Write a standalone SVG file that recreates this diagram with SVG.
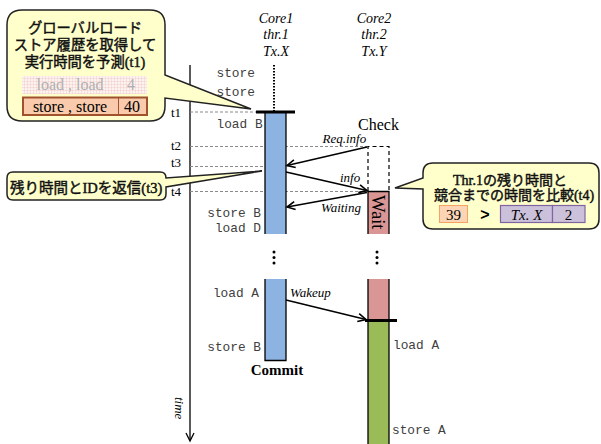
<svg xmlns="http://www.w3.org/2000/svg" width="601" height="444" viewBox="0 0 601 444">
  <style>
    .serif { font-family: "Liberation Serif", "Noto Sans CJK JP", serif; fill: #000; }
    .it { font-style: italic; }
    .mono { font-family: "Liberation Mono", monospace; font-size: 12.8px; fill: #404040; }
    .jp { font-family: "Liberation Serif", "Noto Sans CJK JP", serif; font-weight: normal; fill: #111; stroke: #111; stroke-width: 0.45px; }
    .bubble { fill: #FFFFCC; stroke: #222; stroke-width: 1.5; }
    .tline { stroke: #8a8a8a; stroke-width: 1; stroke-dasharray: 3 2; fill: none; }
    .msg { stroke: #000; stroke-width: 1.6; fill: none; marker-end: url(#open); }
    .side { stroke: #000; stroke-width: 1.3; }
  </style>
  <defs>
    <marker id="open" markerUnits="userSpaceOnUse" markerWidth="12" markerHeight="12" refX="9" refY="5" orient="auto">
      <path d="M1,1 L9,5 L1,9" fill="none" stroke="#000" stroke-width="1.6"/>
    </marker>
    <pattern id="grid" width="3" height="3" patternUnits="userSpaceOnUse">
      <rect width="3" height="3" fill="#FBF3F0"/>
      <path d="M0,0 H3 M0,0 V3" stroke="#F0C4C4" stroke-width="0.8"/>
    </pattern>
  </defs>

  <!-- time axis -->
  <g id="time-axis">
    <line x1="190" y1="65" x2="190" y2="440" stroke="#000" stroke-width="1.3"/>
    <path d="M186,433 L190,441 L194,433" fill="none" stroke="#000" stroke-width="1.3"/>
    <text class="serif it" font-size="13" transform="translate(175,397) rotate(90)">time</text>
    <text class="serif" font-size="13" x="171" y="117">t1</text>
    <text class="serif" font-size="13" x="171" y="150">t2</text>
    <text class="serif" font-size="13" x="171" y="167">t3</text>
    <text class="serif" font-size="13" x="171" y="196">t4</text>
  </g>

  <!-- time marks -->
  <g id="time-marks">
    <line class="tline" x1="190" y1="112" x2="258" y2="112"/>
    <line class="tline" x1="190" y1="146.5" x2="368" y2="146.5"/>
    <line class="tline" x1="190" y1="166.5" x2="265" y2="166.5"/>
    <line class="tline" x1="190" y1="191.5" x2="368" y2="191.5"/>
  </g>

  <!-- Core1 / thread 1 -->
  <g id="core1">
    <text class="serif it" font-size="14" text-anchor="middle" x="276" y="22.5">Core1</text>
    <text class="serif it" font-size="14" text-anchor="middle" x="276" y="39">thr.1</text>
    <text class="serif it" font-size="14" text-anchor="middle" x="276" y="56">Tx.X</text>
    <line x1="274" y1="65" x2="274" y2="111" stroke="#000" stroke-width="2" stroke-dasharray="1.5 1.5"/>
    <rect x="265" y="112" width="21" height="122" fill="#8DB3E2"/>
    <line class="side" x1="265" y1="112" x2="265" y2="234"/>
    <line class="side" x1="286" y1="112" x2="286" y2="234"/>
    <line x1="256" y1="112" x2="295" y2="112" stroke="#000" stroke-width="3"/>
    <circle cx="274" cy="252" r="1.5"/>
    <circle cx="274" cy="257.5" r="1.5"/>
    <circle cx="274" cy="263" r="1.5"/>
    <path d="M265,279 V360.5 H286 V279" fill="#8DB3E2" stroke="#000" stroke-width="1.3"/>
    <text class="mono" x="216.5" y="76.5">store</text>
    <text class="mono" x="216.5" y="96">store</text>
    <text class="mono" x="216.5" y="128">load B</text>
    <text class="mono" text-anchor="end" x="261" y="217">store B</text>
    <text class="mono" text-anchor="end" x="261" y="232">load D</text>
    <text class="mono" text-anchor="end" x="259" y="297">load A</text>
    <text class="mono" text-anchor="end" x="261" y="351">store B</text>
    <text class="serif" font-size="15" font-weight="bold" text-anchor="middle" x="277" y="375">Commit</text>
  </g>

  <!-- Core2 / thread 2 -->
  <g id="core2">
    <text class="serif it" font-size="14" text-anchor="middle" x="374" y="22.5">Core2</text>
    <text class="serif it" font-size="14" text-anchor="middle" x="374" y="39">thr.2</text>
    <text class="serif it" font-size="14" text-anchor="middle" x="374" y="56">Tx.Y</text>
    <text class="serif" font-size="16" x="358" y="130">Check</text>
    <path d="M368,191 V146.5 H389 V191" fill="none" stroke="#000" stroke-width="1.2" stroke-dasharray="4 3"/>
    <rect x="368" y="191.5" width="21" height="42.5" fill="#D99694"/>
    <path d="M368,234 V191.5 H389 V234" fill="none" stroke="#000" stroke-width="1.3"/>
    <text class="serif" font-size="18.5" transform="translate(371.5,195) rotate(90)">Wait</text>
    <circle cx="377" cy="252" r="1.5"/>
    <circle cx="377" cy="257.5" r="1.5"/>
    <circle cx="377" cy="263" r="1.5"/>
    <rect x="368" y="279" width="21" height="41" fill="#D99694"/>
    <line class="side" x1="368" y1="279" x2="368" y2="320"/>
    <line class="side" x1="389" y1="279" x2="389" y2="320"/>
    <rect x="368" y="320" width="21" height="124" fill="#9BBB59"/>
    <line class="side" x1="368" y1="320" x2="368" y2="444"/>
    <line class="side" x1="389" y1="320" x2="389" y2="444"/>
    <line x1="365" y1="320.5" x2="397" y2="320.5" stroke="#000" stroke-width="3"/>
    <text class="mono" x="393" y="349">load A</text>
    <text class="mono" x="392" y="434">store A</text>
  </g>

  <!-- messages between the threads -->
  <g id="connectors">
    <line class="msg" x1="367" y1="147" x2="287" y2="165.5"/>
    <line class="msg" x1="286" y1="172" x2="367" y2="190.5"/>
    <line class="msg" x1="367" y1="192.5" x2="287" y2="207"/>
    <line class="msg" x1="286" y1="300" x2="366" y2="319.5"/>
    <text class="serif it" font-size="13" x="322.5" y="143">Req.info</text>
    <text class="serif it" font-size="13" x="340" y="182">info</text>
    <text class="serif it" font-size="13" x="321" y="212">Waiting</text>
    <text class="serif it" font-size="13" x="290" y="297">Wakeup</text>
  </g>

  <!-- callout: global load/store history -->
  <g id="callout-history">
    <path class="bubble" d="M22,10 H150 Q165,10 165,25 V75 L251,109 L165,98 V106 Q165,121 150,121 H22 Q7,121 7,106 V25 Q7,10 22,10 Z"/>
    <text class="jp" font-size="14.3" text-anchor="middle" x="85" y="32.5">グローバルロード</text>
    <text class="jp" font-size="14.3" text-anchor="middle" x="85" y="50">ストア履歴を取得して</text>
    <text class="jp" font-size="14.3" text-anchor="middle" x="85" y="67">実行時間を予測(t1)</text>
    <rect x="22" y="76" width="125" height="18" fill="url(#grid)"/>
    <text class="serif" font-size="16" style="fill:#b0b0b0" text-anchor="middle" x="70" y="90">load , load</text>
    <text class="serif" font-size="16" style="fill:#b0b0b0" text-anchor="middle" x="131" y="90">4</text>
    <rect x="23" y="97.5" width="124" height="17.5" fill="#F9CBAC" stroke="#A0522D" stroke-width="2"/>
    <line x1="118.5" y1="97.5" x2="118.5" y2="115" stroke="#A0522D" stroke-width="1"/>
    <text class="serif" font-size="16" text-anchor="middle" x="70" y="111.5">store , store</text>
    <text class="serif" font-size="16" text-anchor="middle" x="132" y="111.5">40</text>
  </g>

  <!-- callout: reply with remaining time and ID -->
  <g id="callout-reply">
    <path class="bubble" d="M13,172 H160 Q166,172 166,178 L262,171 L166,187 V194 Q166,200 160,200 H13 Q7,200 7,194 V178 Q7,172 13,172 Z"/>
    <text class="jp" font-size="14.5" x="10" y="192.5">残り時間とIDを返信(t3)</text>
  </g>

  <!-- callout: compare remaining time -->
  <g id="callout-compare">
    <path class="bubble" d="M433,163 H589 Q599,163 599,173 V219 Q599,229 589,229 H433 Q423,229 423,219 V189 L395,188 L423,178 V173 Q423,163 433,163 Z"/>
    <text class="jp" font-size="14" text-anchor="middle" x="510" y="184.5">Thr.1の残り時間と</text>
    <text class="jp" font-size="14" text-anchor="middle" x="514" y="199.5">競合までの時間を比較(t4)</text>
    <rect x="439.5" y="205.5" width="28" height="17" fill="#FBD5B5" stroke="#F4A460" stroke-width="1"/>
    <text class="serif" font-size="15" text-anchor="middle" x="453.5" y="219.5">39</text>
    <text font-family="Liberation Sans, sans-serif" font-size="16" font-weight="bold" text-anchor="middle" x="485" y="220">&gt;</text>
    <rect x="500.5" y="205.5" width="52" height="17" fill="#CCC1DA" stroke="#8064A2" stroke-width="1.2"/>
    <rect x="552.5" y="205.5" width="32.5" height="17" fill="#CCC1DA" stroke="#8064A2" stroke-width="1.2"/>
    <text class="serif it" font-size="15" text-anchor="middle" x="526.5" y="219.5">Tx. X</text>
    <text class="serif" font-size="15" text-anchor="middle" x="568.5" y="219.5">2</text>
  </g>
</svg>
